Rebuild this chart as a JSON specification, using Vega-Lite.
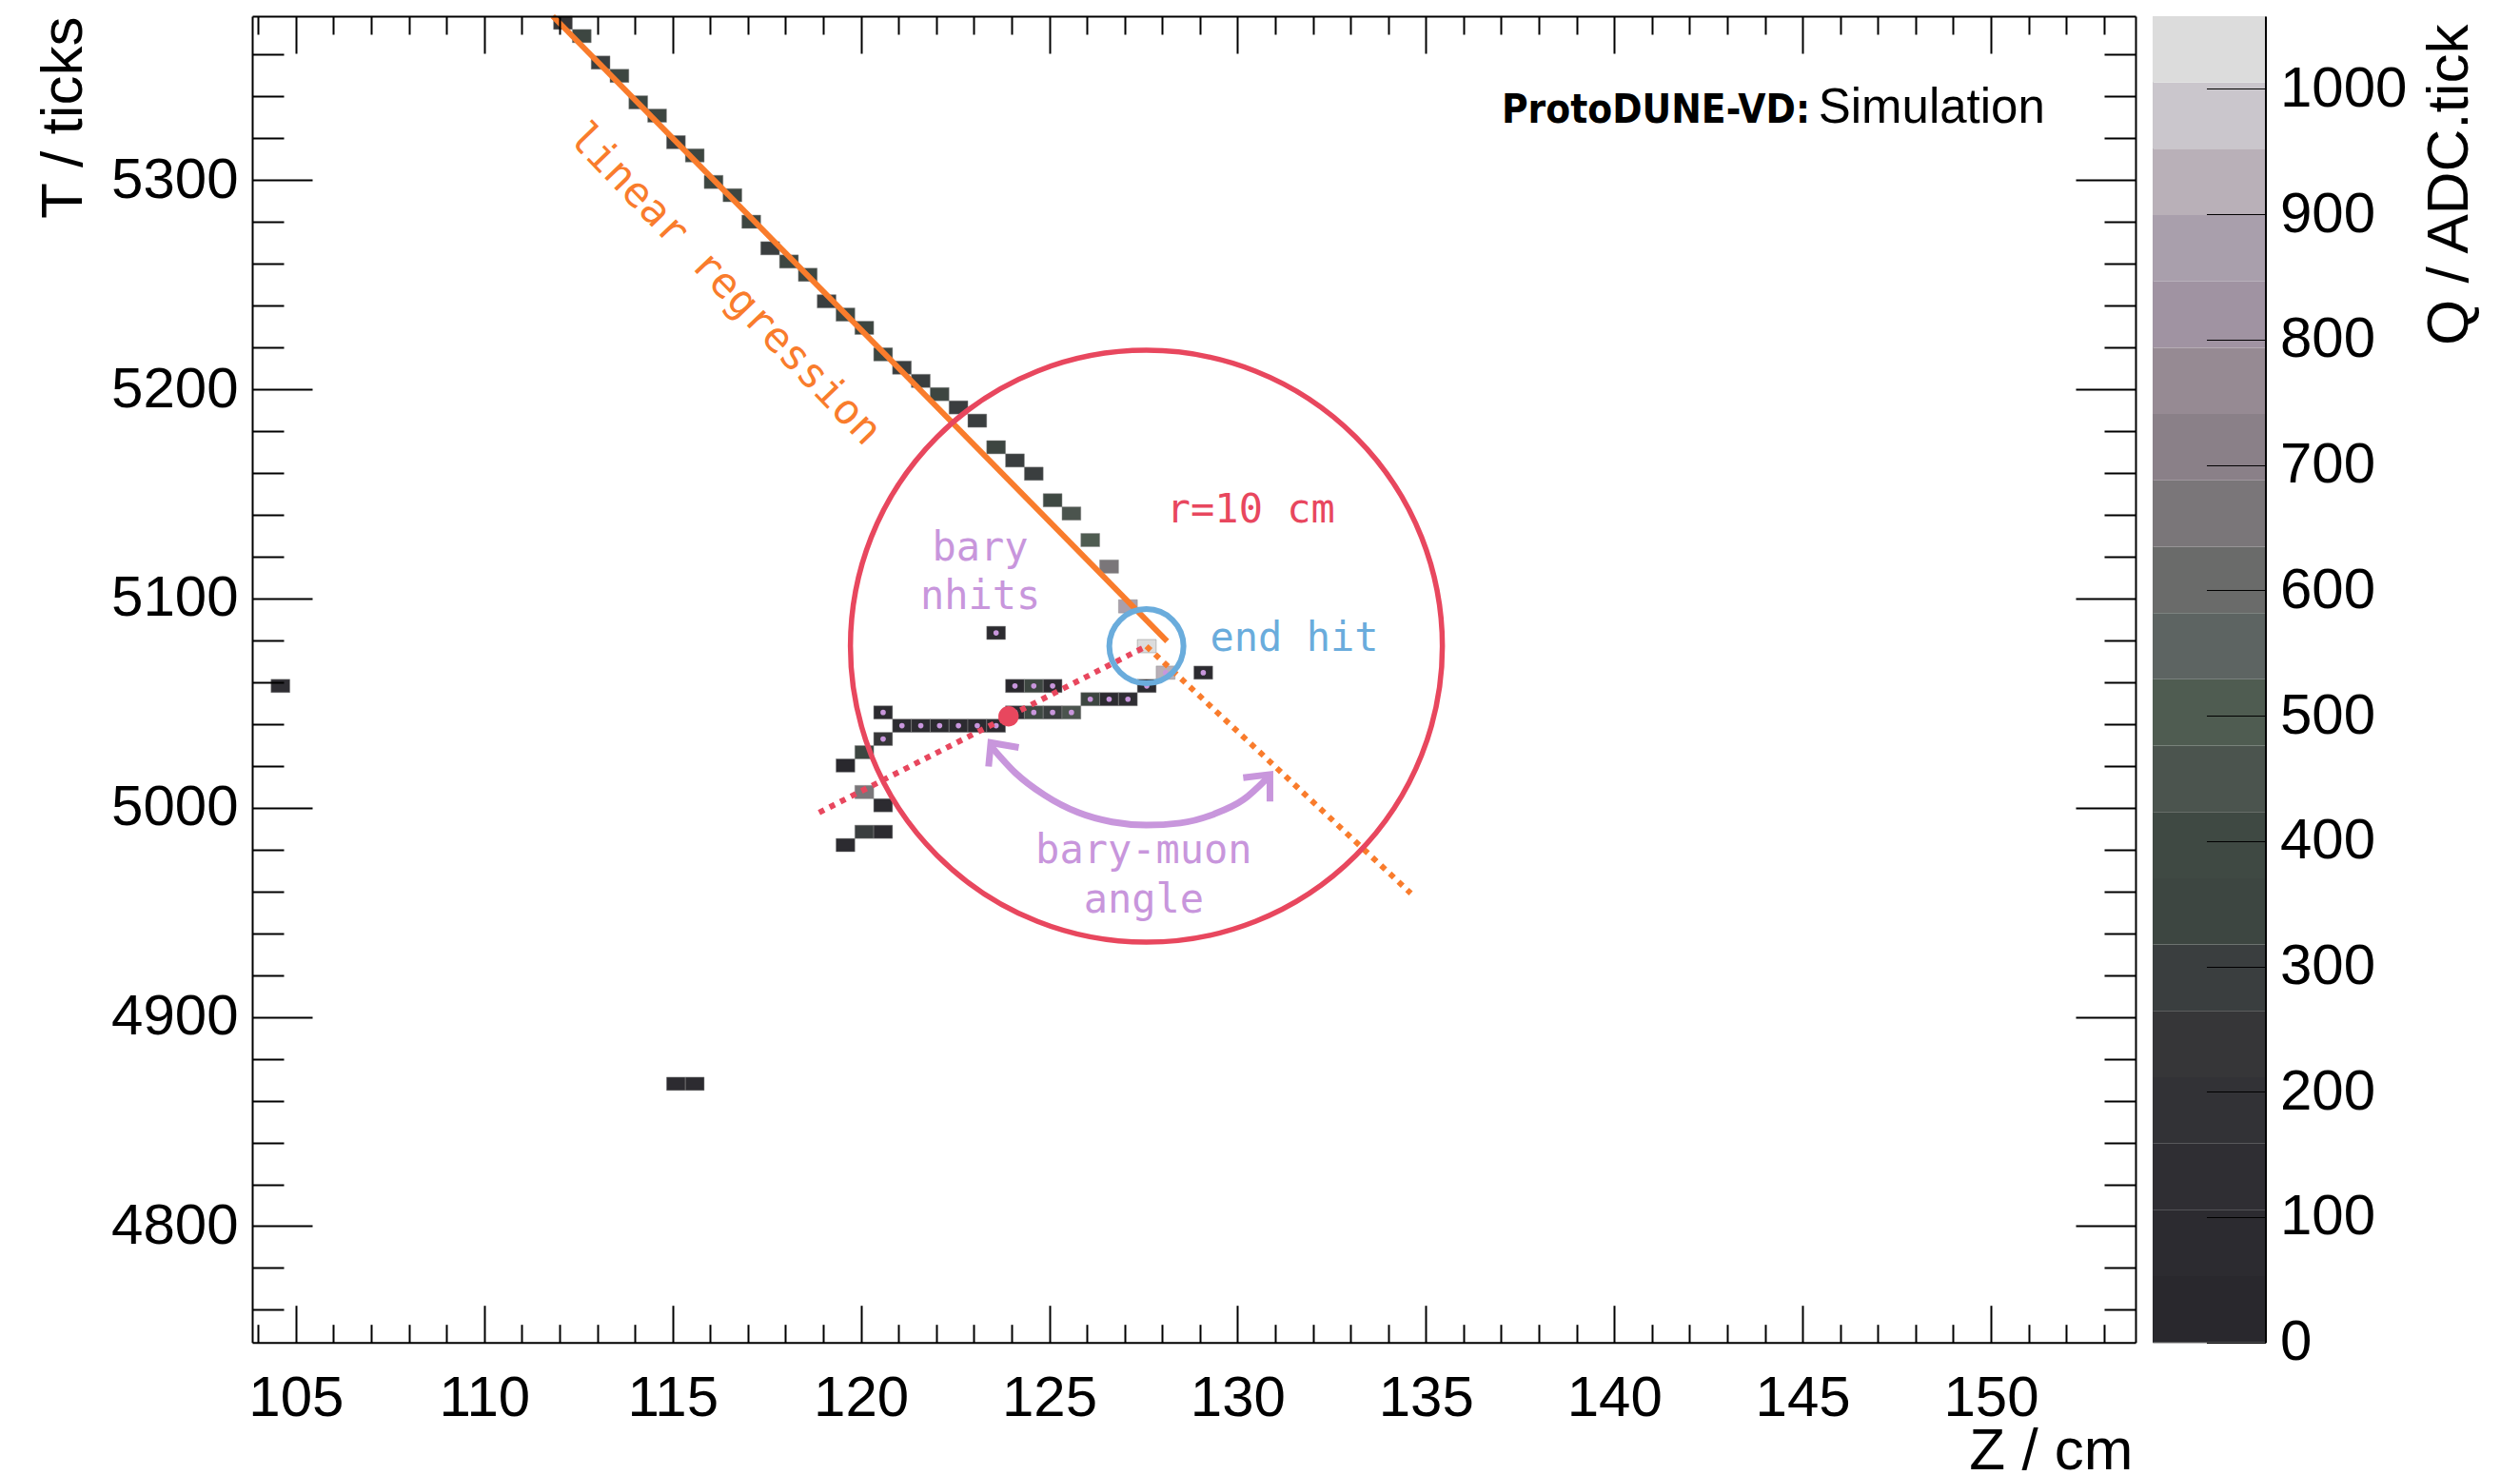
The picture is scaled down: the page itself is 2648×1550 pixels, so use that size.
{
  "$schema": "https://vega.github.io/schema/vega-lite/v6.json",
  "background": "white",
  "padding": {"left": 34, "top": 5, "right": 5, "bottom": 0},
  "spacing": 16,
  "config": {
    "view": {"stroke": null},
    "font": "Liberation Sans",
    "axis": {"labelFont": "Liberation Sans", "titleFont": "Liberation Sans", "labelColor": "black", "titleColor": "black", "tickColor": "black", "domainColor": "black", "grid": false, "titleFontWeight": "normal", "labelFlush": false, "labelOverlap": false}
  },
  "datasets": {
    "cells": [
      {"z0": 111.84, "z1": 112.34, "t0": 5372.06, "t1": 5378.40, "q": 240},
      {"z0": 112.34, "z1": 112.84, "t0": 5365.72, "t1": 5372.06, "q": 340},
      {"z0": 112.84, "z1": 113.34, "t0": 5353.04, "t1": 5359.38, "q": 300},
      {"z0": 113.34, "z1": 113.84, "t0": 5346.70, "t1": 5353.04, "q": 330},
      {"z0": 113.84, "z1": 114.34, "t0": 5334.02, "t1": 5340.36, "q": 340},
      {"z0": 114.34, "z1": 114.84, "t0": 5327.68, "t1": 5334.02, "q": 350},
      {"z0": 114.84, "z1": 115.34, "t0": 5315.00, "t1": 5321.34, "q": 300},
      {"z0": 115.34, "z1": 115.84, "t0": 5308.66, "t1": 5315.00, "q": 340},
      {"z0": 115.84, "z1": 116.34, "t0": 5295.98, "t1": 5302.32, "q": 320},
      {"z0": 116.34, "z1": 116.84, "t0": 5289.64, "t1": 5295.98, "q": 345},
      {"z0": 116.84, "z1": 117.34, "t0": 5276.96, "t1": 5283.30, "q": 330},
      {"z0": 117.34, "z1": 117.84, "t0": 5264.28, "t1": 5270.62, "q": 300},
      {"z0": 117.84, "z1": 118.34, "t0": 5257.94, "t1": 5264.28, "q": 330},
      {"z0": 118.34, "z1": 118.84, "t0": 5251.60, "t1": 5257.94, "q": 350},
      {"z0": 118.84, "z1": 119.34, "t0": 5238.92, "t1": 5245.26, "q": 310},
      {"z0": 119.34, "z1": 119.84, "t0": 5232.58, "t1": 5238.92, "q": 330},
      {"z0": 119.84, "z1": 120.34, "t0": 5226.24, "t1": 5232.58, "q": 345},
      {"z0": 120.34, "z1": 120.84, "t0": 5213.56, "t1": 5219.90, "q": 330},
      {"z0": 120.84, "z1": 121.34, "t0": 5207.22, "t1": 5213.56, "q": 300},
      {"z0": 121.34, "z1": 121.84, "t0": 5200.88, "t1": 5207.22, "q": 290},
      {"z0": 121.84, "z1": 122.34, "t0": 5194.54, "t1": 5200.88, "q": 330},
      {"z0": 122.34, "z1": 122.84, "t0": 5188.20, "t1": 5194.54, "q": 300},
      {"z0": 122.84, "z1": 123.34, "t0": 5181.86, "t1": 5188.20, "q": 270},
      {"z0": 123.34, "z1": 123.84, "t0": 5169.18, "t1": 5175.52, "q": 330},
      {"z0": 123.84, "z1": 124.34, "t0": 5162.84, "t1": 5169.18, "q": 280},
      {"z0": 124.34, "z1": 124.84, "t0": 5156.50, "t1": 5162.84, "q": 310},
      {"z0": 124.84, "z1": 125.34, "t0": 5143.82, "t1": 5150.16, "q": 390},
      {"z0": 125.34, "z1": 125.84, "t0": 5137.48, "t1": 5143.82, "q": 450},
      {"z0": 125.84, "z1": 126.34, "t0": 5124.80, "t1": 5131.14, "q": 510},
      {"z0": 126.34, "z1": 126.84, "t0": 5112.12, "t1": 5118.46, "q": 670},
      {"z0": 126.84, "z1": 127.34, "t0": 5093.10, "t1": 5099.44, "q": 860},
      {"z0": 127.34, "z1": 127.84, "t0": 5074.08, "t1": 5080.42, "q": 1040},
      {"z0": 127.84, "z1": 128.34, "t0": 5061.40, "t1": 5067.74, "q": 930},
      {"z0": 127.34, "z1": 127.84, "t0": 5055.06, "t1": 5061.40, "q": 60},
      {"z0": 128.84, "z1": 129.34, "t0": 5061.40, "t1": 5067.74, "q": 70},
      {"z0": 123.34, "z1": 123.84, "t0": 5080.42, "t1": 5086.76, "q": 60},
      {"z0": 123.84, "z1": 124.34, "t0": 5055.06, "t1": 5061.40, "q": 40},
      {"z0": 124.34, "z1": 124.84, "t0": 5055.06, "t1": 5061.40, "q": 340},
      {"z0": 124.84, "z1": 125.34, "t0": 5055.06, "t1": 5061.40, "q": 70},
      {"z0": 125.84, "z1": 126.34, "t0": 5048.72, "t1": 5055.06, "q": 320},
      {"z0": 126.34, "z1": 126.84, "t0": 5048.72, "t1": 5055.06, "q": 90},
      {"z0": 126.84, "z1": 127.34, "t0": 5048.72, "t1": 5055.06, "q": 110},
      {"z0": 120.34, "z1": 120.84, "t0": 5042.38, "t1": 5048.72, "q": 80},
      {"z0": 123.84, "z1": 124.34, "t0": 5042.38, "t1": 5048.72, "q": 60},
      {"z0": 124.34, "z1": 124.84, "t0": 5042.38, "t1": 5048.72, "q": 400},
      {"z0": 124.84, "z1": 125.34, "t0": 5042.38, "t1": 5048.72, "q": 290},
      {"z0": 125.34, "z1": 125.84, "t0": 5042.38, "t1": 5048.72, "q": 460},
      {"z0": 120.84, "z1": 121.34, "t0": 5036.04, "t1": 5042.38, "q": 80},
      {"z0": 121.34, "z1": 121.84, "t0": 5036.04, "t1": 5042.38, "q": 70},
      {"z0": 121.84, "z1": 122.34, "t0": 5036.04, "t1": 5042.38, "q": 90},
      {"z0": 122.34, "z1": 122.84, "t0": 5036.04, "t1": 5042.38, "q": 60},
      {"z0": 122.84, "z1": 123.34, "t0": 5036.04, "t1": 5042.38, "q": 100},
      {"z0": 123.34, "z1": 123.84, "t0": 5036.04, "t1": 5042.38, "q": 80},
      {"z0": 120.34, "z1": 120.84, "t0": 5029.70, "t1": 5036.04, "q": 240},
      {"z0": 119.84, "z1": 120.34, "t0": 5023.36, "t1": 5029.70, "q": 320},
      {"z0": 119.34, "z1": 119.84, "t0": 5017.02, "t1": 5023.36, "q": 50},
      {"z0": 119.84, "z1": 120.34, "t0": 5004.34, "t1": 5010.68, "q": 670},
      {"z0": 120.34, "z1": 120.84, "t0": 4998.00, "t1": 5004.34, "q": 90},
      {"z0": 119.84, "z1": 120.34, "t0": 4985.32, "t1": 4991.66, "q": 290},
      {"z0": 120.34, "z1": 120.84, "t0": 4985.32, "t1": 4991.66, "q": 90},
      {"z0": 119.34, "z1": 119.84, "t0": 4978.98, "t1": 4985.32, "q": 60},
      {"z0": 104.34, "z1": 104.84, "t0": 5055.06, "t1": 5061.40, "q": 110},
      {"z0": 114.84, "z1": 115.34, "t0": 4864.86, "t1": 4871.20, "q": 100},
      {"z0": 115.34, "z1": 115.84, "t0": 4864.86, "t1": 4871.20, "q": 100}
    ],
    "bary": [
      {"z": 128.09, "t": 5064.57}, {"z": 127.59, "t": 5058.23}, {"z": 129.09, "t": 5064.57}, {"z": 123.59, "t": 5083.59},
      {"z": 124.09, "t": 5058.23}, {"z": 124.59, "t": 5058.23}, {"z": 125.09, "t": 5058.23},
      {"z": 126.09, "t": 5051.89}, {"z": 126.59, "t": 5051.89}, {"z": 127.09, "t": 5051.89},
      {"z": 120.59, "t": 5045.55}, {"z": 124.09, "t": 5045.55}, {"z": 124.59, "t": 5045.55}, {"z": 125.09, "t": 5045.55}, {"z": 125.59, "t": 5045.55},
      {"z": 121.09, "t": 5039.21}, {"z": 121.59, "t": 5039.21}, {"z": 122.09, "t": 5039.21}, {"z": 122.59, "t": 5039.21}, {"z": 123.09, "t": 5039.21}, {"z": 123.59, "t": 5039.21},
      {"z": 120.59, "t": 5032.87}
    ],
    "lines": [
      {"k": "fit", "o": 0, "z": 111.82, "t": 5378.4}, {"k": "fit", "o": 1, "z": 128.13, "t": 5079.6},
      {"k": "muon", "o": 0, "z": 127.58, "t": 5077.2}, {"k": "muon", "o": 1, "z": 134.60, "t": 4959.1},
      {"k": "bary", "o": 0, "z": 118.89, "t": 4997.7}, {"k": "bary", "o": 1, "z": 127.58, "t": 5077.2}
    ],
    "arc": [
      {"k": "arc", "o": 0, "z": 123.45, "t": 5029.5}, {"k": "arc", "o": 1, "z": 124.10, "t": 5016.7},
      {"k": "arc", "o": 2, "z": 124.87, "t": 5006.1}, {"k": "arc", "o": 3, "z": 125.77, "t": 4997.7},
      {"k": "arc", "o": 4, "z": 126.67, "t": 4993.2}, {"k": "arc", "o": 5, "z": 127.58, "t": 4991.7},
      {"k": "arc", "o": 6, "z": 128.48, "t": 4992.7}, {"k": "arc", "o": 7, "z": 129.38, "t": 4997.0},
      {"k": "arc", "o": 8, "z": 130.15, "t": 5003.8}, {"k": "arc", "o": 9, "z": 130.80, "t": 5014.4},
      {"k": "headL", "o": 0, "z": 123.39, "t": 5019.7}, {"k": "headL", "o": 1, "z": 123.45, "t": 5031.1}, {"k": "headL", "o": 2, "z": 124.19, "t": 5028.8},
      {"k": "headR", "o": 0, "z": 130.15, "t": 5014.4}, {"k": "headR", "o": 1, "z": 130.86, "t": 5015.9}, {"k": "headR", "o": 2, "z": 130.86, "t": 5003.0}
    ],
    "centers": [
      {"k": "end", "z": 127.58, "t": 5077.2},
      {"k": "bc", "z": 123.92, "t": 5043.7}
    ],
    "notes": [
      {"k": "lr", "text": "linear regression", "z": 116.38, "t": 5250.1},
      {"k": "r10", "text": "r=10 cm", "z": 130.35, "t": 5136.5},
      {"k": "pur", "text": "bary", "z": 123.17, "t": 5118.3},
      {"k": "pur", "text": "nhits", "z": 123.17, "t": 5094.8},
      {"k": "pur", "text": "bary-muon", "z": 127.51, "t": 4973.5},
      {"k": "pur", "text": "angle", "z": 127.51, "t": 4950.0},
      {"k": "end", "text": "end hit", "z": 129.27, "t": 5075.1},
      {"k": "exp", "text": "ProtoDUNE-VD:", "z": 145.2, "t": 5327.6},
      {"k": "sim", "text": "Simulation", "z": 145.42, "t": 5327.6}
    ],
    "bands": [
      {"lo": 0, "hi": 52.9, "q": 26.45}, {"lo": 52.9, "hi": 105.8, "q": 79.35},
      {"lo": 105.8, "hi": 158.7, "q": 132.25}, {"lo": 158.7, "hi": 211.6, "q": 185.15},
      {"lo": 211.6, "hi": 264.5, "q": 238.05}, {"lo": 264.5, "hi": 317.4, "q": 290.95},
      {"lo": 317.4, "hi": 370.3, "q": 343.85}, {"lo": 370.3, "hi": 423.2, "q": 396.75},
      {"lo": 423.2, "hi": 476.1, "q": 449.65}, {"lo": 476.1, "hi": 529.0, "q": 502.55},
      {"lo": 529.0, "hi": 581.9, "q": 555.45}, {"lo": 581.9, "hi": 634.8, "q": 608.35},
      {"lo": 634.8, "hi": 687.7, "q": 661.25}, {"lo": 687.7, "hi": 740.6, "q": 714.15},
      {"lo": 740.6, "hi": 793.5, "q": 767.05}, {"lo": 793.5, "hi": 846.4, "q": 819.95},
      {"lo": 846.4, "hi": 899.3, "q": 872.85}, {"lo": 899.3, "hi": 952.2, "q": 925.75},
      {"lo": 952.2, "hi": 1005.1, "q": 978.65}, {"lo": 1005.1, "hi": 1058.0, "q": 1031.55}
    ]
  },
  "hconcat": [
    {
      "width": 1979,
      "height": 1393.7,
      "resolve": {"axis": {"x": "independent", "y": "independent"}},
      "layer": [
        {
          "data": {"name": "cells"},
          "mark": {"type": "rect", "stroke": "#8a8a8a", "strokeWidth": 0.8, "strokeOpacity": 0.6},
          "encoding": {
            "x": {"field": "z0", "type": "quantitative", "scale": {"domain": [103.84, 153.84], "nice": false, "zero": false},
              "axis": {"orient": "bottom", "values": [105, 110, 115, 120, 125, 130, 135, 140, 145, 150], "format": "d", "tickSize": -39, "tickWidth": 2, "domain": true, "domainWidth": 2, "labelFontSize": 60, "labelPadding": 68.6, "title": "Z / cm", "titleFontSize": 62, "titleAlign": "right", "titleBaseline": "alphabetic", "titleX": 1976, "titleY": 133, "zindex": 1}},
            "x2": {"field": "z1"},
            "y": {"field": "t0", "type": "quantitative", "scale": {"domain": [4744.4, 5378.4], "nice": false, "zero": false},
              "axis": {"orient": "left", "values": [4800, 4900, 5000, 5100, 5200, 5300], "format": "d", "tickSize": -63, "tickWidth": 2, "domain": true, "domainWidth": 2, "labelFontSize": 60, "labelPadding": 78, "title": "T / ticks", "titleFontSize": 62, "titleAngle": -90, "titleAlign": "right", "titleBaseline": "alphabetic", "titleX": -180, "titleY": 0, "zindex": 1}},
            "y2": {"field": "t1"},
            "color": {"field": "q", "type": "quantitative", "legend": null,
              "scale": {"type": "quantize", "domain": [0, 1058], "nice": false, "zero": false, "range": ["#29282D", "#2C2B30", "#2F2E33", "#323236", "#363638", "#3A3E3F", "#3D4641", "#3F4943", "#4B544E", "#4F5C51", "#5D6462", "#6A6B6A", "#7A7679", "#8A8088", "#968A93", "#A093A2", "#A99FAC", "#B9B0B8", "#CAC6CC", "#DCDCDC"]}}
          }
        },
        {
          "data": {"name": "bary"},
          "mark": {"type": "point", "filled": true, "size": 32, "color": "#C896DC", "opacity": 1},
          "encoding": {
            "x": {"field": "z", "type": "quantitative",
              "axis": {"orient": "bottom", "values": [104, 106, 107, 108, 109, 111, 112, 113, 114, 116, 117, 118, 119, 121, 122, 123, 124, 126, 127, 128, 129, 131, 132, 133, 134, 136, 137, 138, 139, 141, 142, 143, 144, 146, 147, 148, 149, 151, 152, 153], "tickSize": -19, "tickWidth": 2, "domain": false, "labels": false, "title": null, "zindex": 1}},
            "y": {"field": "t", "type": "quantitative",
              "axis": {"orient": "left", "values": [4760, 4780, 4820, 4840, 4860, 4880, 4920, 4940, 4960, 4980, 5020, 5040, 5060, 5080, 5120, 5140, 5160, 5180, 5220, 5240, 5260, 5280, 5320, 5340, 5360], "tickSize": -33, "tickWidth": 2, "domain": false, "labels": false, "title": null, "zindex": 1}}
          }
        },
        {
          "data": {"name": "lines"},
          "transform": [{"filter": "datum.k === 'fit'"}],
          "mark": {"type": "line", "color": "#F97C2C", "strokeWidth": 6, "strokeCap": "butt"},
          "encoding": {
            "x": {"field": "z", "type": "quantitative",
              "axis": {"orient": "top", "values": [105, 110, 115, 120, 125, 130, 135, 140, 145, 150], "tickSize": -39, "tickWidth": 2, "domain": true, "domainWidth": 2, "labels": false, "title": null, "zindex": 1}},
            "y": {"field": "t", "type": "quantitative",
              "axis": {"orient": "right", "values": [4800, 4900, 5000, 5100, 5200, 5300], "tickSize": -63, "tickWidth": 2, "domain": true, "domainWidth": 2, "labels": false, "title": null, "zindex": 1}},
            "order": {"field": "o"}
          }
        },
        {
          "data": {"name": "lines"},
          "transform": [{"filter": "datum.k === 'muon'"}],
          "mark": {"type": "line", "color": "#F97C2C", "strokeWidth": 6, "strokeCap": "butt", "strokeDash": [6, 6.5]},
          "encoding": {
            "x": {"field": "z", "type": "quantitative",
              "axis": {"orient": "top", "values": [104, 106, 107, 108, 109, 111, 112, 113, 114, 116, 117, 118, 119, 121, 122, 123, 124, 126, 127, 128, 129, 131, 132, 133, 134, 136, 137, 138, 139, 141, 142, 143, 144, 146, 147, 148, 149, 151, 152, 153], "tickSize": -19, "tickWidth": 2, "domain": false, "labels": false, "title": null, "zindex": 1}},
            "y": {"field": "t", "type": "quantitative",
              "axis": {"orient": "right", "values": [4760, 4780, 4820, 4840, 4860, 4880, 4920, 4940, 4960, 4980, 5020, 5040, 5060, 5080, 5120, 5140, 5160, 5180, 5220, 5240, 5260, 5280, 5320, 5340, 5360], "tickSize": -33, "tickWidth": 2, "domain": false, "labels": false, "title": null, "zindex": 1}},
            "order": {"field": "o"}
          }
        },
        {
          "data": {"name": "lines"},
          "transform": [{"filter": "datum.k === 'bary'"}],
          "mark": {"type": "line", "color": "#E8475E", "strokeWidth": 6, "strokeCap": "butt", "strokeDash": [6, 6.5]},
          "encoding": {
            "x": {"field": "z", "type": "quantitative", "axis": null},
            "y": {"field": "t", "type": "quantitative", "axis": null},
            "order": {"field": "o"}
          }
        },
        {
          "data": {"name": "arc"},
          "transform": [{"filter": "datum.k === 'arc'"}],
          "mark": {"type": "line", "color": "#C896DC", "strokeWidth": 7, "interpolate": "monotone"},
          "encoding": {
            "x": {"field": "z", "type": "quantitative", "axis": null},
            "y": {"field": "t", "type": "quantitative", "axis": null},
            "order": {"field": "o"}
          }
        },
        {
          "data": {"name": "arc"},
          "transform": [{"filter": "datum.k !== 'arc'"}],
          "mark": {"type": "line", "color": "#C896DC", "strokeWidth": 7, "strokeJoin": "miter", "strokeCap": "butt"},
          "encoding": {
            "x": {"field": "z", "type": "quantitative", "axis": null},
            "y": {"field": "t", "type": "quantitative", "axis": null},
            "detail": {"field": "k"},
            "order": {"field": "o"}
          }
        },
        {
          "data": {"name": "centers"},
          "transform": [{"filter": "datum.k === 'end'"}],
          "mark": {"type": "point", "shape": "circle", "filled": false, "size": 386884, "color": "#E8475E", "strokeWidth": 5.5, "opacity": 1},
          "encoding": {
            "x": {"field": "z", "type": "quantitative", "axis": null},
            "y": {"field": "t", "type": "quantitative", "axis": null}
          }
        },
        {
          "data": {"name": "centers"},
          "transform": [{"filter": "datum.k === 'end'"}],
          "mark": {"type": "point", "shape": "circle", "filled": false, "size": 6084, "color": "#6AACDC", "strokeWidth": 6, "opacity": 1},
          "encoding": {
            "x": {"field": "z", "type": "quantitative", "axis": null},
            "y": {"field": "t", "type": "quantitative", "axis": null}
          }
        },
        {
          "data": {"name": "centers"},
          "transform": [{"filter": "datum.k === 'bc'"}],
          "mark": {"type": "point", "shape": "circle", "filled": true, "size": 460, "color": "#E8475E", "opacity": 1},
          "encoding": {
            "x": {"field": "z", "type": "quantitative", "axis": null},
            "y": {"field": "t", "type": "quantitative", "axis": null}
          }
        },
        {
          "data": {"name": "notes"},
          "transform": [{"filter": "datum.k === 'lr'"}],
          "mark": {"type": "text", "font": "DejaVu Sans Mono", "fontSize": 44, "color": "#F97C2C", "angle": 46, "align": "center", "baseline": "middle"},
          "encoding": {
            "x": {"field": "z", "type": "quantitative", "axis": null},
            "y": {"field": "t", "type": "quantitative", "axis": null},
            "text": {"field": "text"}
          }
        },
        {
          "data": {"name": "notes"},
          "transform": [{"filter": "datum.k === 'r10'"}],
          "mark": {"type": "text", "font": "DejaVu Sans Mono", "fontSize": 42, "color": "#E8475E", "align": "center", "baseline": "alphabetic"},
          "encoding": {
            "x": {"field": "z", "type": "quantitative", "axis": null},
            "y": {"field": "t", "type": "quantitative", "axis": null},
            "text": {"field": "text"}
          }
        },
        {
          "data": {"name": "notes"},
          "transform": [{"filter": "datum.k === 'pur'"}],
          "mark": {"type": "text", "font": "DejaVu Sans Mono", "fontSize": 42, "color": "#C896DC", "align": "center", "baseline": "alphabetic"},
          "encoding": {
            "x": {"field": "z", "type": "quantitative", "axis": null},
            "y": {"field": "t", "type": "quantitative", "axis": null},
            "text": {"field": "text"}
          }
        },
        {
          "data": {"name": "notes"},
          "transform": [{"filter": "datum.k === 'end'"}],
          "mark": {"type": "text", "font": "DejaVu Sans Mono", "fontSize": 42, "color": "#6AACDC", "align": "left", "baseline": "alphabetic"},
          "encoding": {
            "x": {"field": "z", "type": "quantitative", "axis": null},
            "y": {"field": "t", "type": "quantitative", "axis": null},
            "text": {"field": "text"}
          }
        },
        {
          "data": {"name": "notes"},
          "transform": [{"filter": "datum.k === 'exp'"}],
          "mark": {"type": "text", "font": "Liberation Sans Narrow, DejaVu Sans Condensed, Liberation Sans", "fontWeight": "bold", "fontSize": 42, "color": "black", "align": "right", "baseline": "alphabetic"},
          "encoding": {
            "x": {"field": "z", "type": "quantitative", "axis": null},
            "y": {"field": "t", "type": "quantitative", "axis": null},
            "text": {"field": "text"}
          }
        },
        {
          "data": {"name": "notes"},
          "transform": [{"filter": "datum.k === 'sim'"}],
          "mark": {"type": "text", "font": "Liberation Sans", "fontSize": 51, "color": "black", "align": "left", "baseline": "alphabetic"},
          "encoding": {
            "x": {"field": "z", "type": "quantitative", "axis": null},
            "y": {"field": "t", "type": "quantitative", "axis": null},
            "text": {"field": "text"}
          }
        }
      ]
    },
    {
      "width": 118.5,
      "height": 1393.7,
      "view": {"stroke": "#9a9a9a", "strokeWidth": 1},
      "data": {"name": "bands"},
      "mark": {"type": "rect"},
      "encoding": {
        "y": {"field": "lo", "type": "quantitative", "scale": {"domain": [0, 1058], "nice": false, "zero": false},
          "axis": {"orient": "right", "values": [0, 100, 200, 300, 400, 500, 600, 700, 800, 900, 1000], "format": "d", "tickSize": -62, "tickWidth": 1, "domain": true, "domainWidth": 2, "labelFontSize": 60, "labelAlign": "left", "labelPadding": 77, "title": "Q / ADC.tick", "titleFontSize": 62, "titleAngle": -90, "titleAlign": "right", "titleBaseline": "alphabetic", "titleX": 212, "titleY": 8, "zindex": 1}},
        "y2": {"field": "hi"},
        "color": {"field": "q", "type": "quantitative", "legend": null,
          "scale": {"type": "quantize", "domain": [0, 1058], "nice": false, "zero": false, "range": ["#29282D", "#2C2B30", "#2F2E33", "#323236", "#363638", "#3A3E3F", "#3D4641", "#3F4943", "#4B544E", "#4F5C51", "#5D6462", "#6A6B6A", "#7A7679", "#8A8088", "#968A93", "#A093A2", "#A99FAC", "#B9B0B8", "#CAC6CC", "#DCDCDC"]}}
      }
    }
  ]
}
